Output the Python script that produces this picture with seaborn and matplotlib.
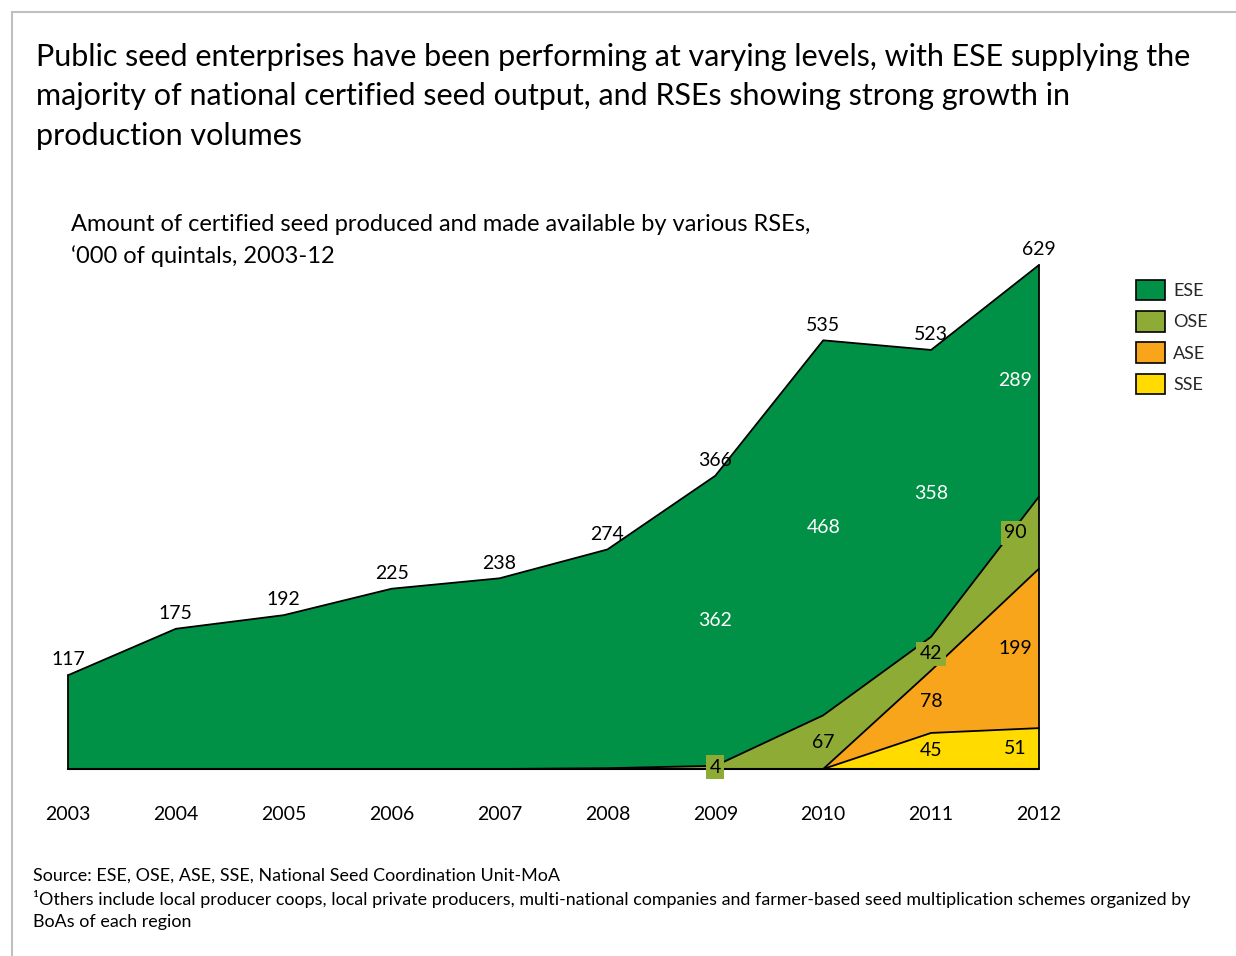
import numpy as np
import pandas as pd
import matplotlib
matplotlib.use("Agg")
import matplotlib.pyplot as plt
from matplotlib.patches import Patch
from matplotlib.lines import Line2D
import seaborn as sns

# ---------------- data ----------------
years = [2003, 2004, 2005, 2006, 2007, 2008, 2009, 2010, 2011, 2012]
ese = [117, 175, 192, 225, 238, 273, 362, 468, 358, 289]
ose = [0, 0, 0, 0, 0, 1, 4, 67, 42, 90]
ase = [0, 0, 0, 0, 0, 0, 0, 0, 78, 199]
sse = [0, 0, 0, 0, 0, 0, 0, 0, 45, 51]
series_names = ["SSE", "ASE", "OSE", "ESE"]  # bottom -> top
legend_order = ["ESE", "OSE", "ASE", "SSE"]
colors = {"ESE": "#009146", "OSE": "#8EAB36", "ASE": "#F8A51C", "SSE": "#FFDB00"}
label_from_year = 2009

title_lines = [
    "Public seed enterprises have been performing at varying levels, with ESE supplying the",
    "majority of national certified seed output, and RSEs showing strong growth in",
    "production volumes",
]
subtitle_lines = [
    "Amount of certified seed produced and made available by various RSEs,",
    "\u2018000 of quintals, 2003-12",
]
foot_lines = [
    "Source: ESE, OSE, ASE, SSE, National Seed Coordination Unit-MoA",
    "\u00b9Others include local producer coops, local private producers, multi-national companies and farmer-based seed multiplication schemes organized by",
    "BoAs of each region",
]

# ---------------- style ----------------
sns.set_theme(style="white")
plt.rcParams["font.family"] = ["Lato", "DejaVu Sans"]

W, H = 1236, 956
fig = plt.figure(figsize=(W / 100, H / 100), dpi=100)
fig.patch.set_facecolor("white")


def fx(px):
    return px / W


def fy(py):
    return 1 - py / H


# axes placement: 2003 -> x=68, 2012 -> x=1039, 0 -> y=769
ymax = 700
px_per_unit = (769 - 265) / 629
ax_h = ymax * px_per_unit
ax = fig.add_axes([fx(68), fy(769), fx(1039 - 68), ax_h / H])
ax.set_facecolor("none")

df = pd.DataFrame({"year": years, "ESE": ese, "OSE": ose, "ASE": ase, "SSE": sse})
vals = {n: np.array(df[n], dtype=float) for n in series_names}
bottom = np.zeros(len(years))
bounds = {}
for n in series_names:
    top = bottom + vals[n]
    bounds[n] = (bottom.copy(), top.copy())
    ax.fill_between(df["year"], bottom, top, facecolor=colors[n], edgecolor="none",
                    linewidth=0, zorder=2)
    bottom = top

# outlines drawn through seaborn
lines_df = pd.DataFrame({
    "year": list(years) * len(series_names),
    "value": np.concatenate([bounds[n][1] for n in series_names]),
    "layer": np.repeat(series_names, len(years)),
})
sns.lineplot(data=lines_df, x="year", y="value", units="layer", estimator=None,
             color="black", linewidth=1.3, ax=ax, zorder=3, legend=False)
total = bounds["ESE"][1]
ax.plot([years[0], years[0]], [0, total[0]], color="black", lw=1.3, zorder=3, clip_on=False)
ax.plot([years[-1], years[-1]], [0, total[-1]], color="black", lw=1.3, zorder=3, clip_on=False)
ax.axhline(0, color="black", lw=1.5, zorder=3)

ax.set_xlim(years[0], years[-1])
ax.set_ylim(0, ymax)
ax.set_xlabel("")
ax.set_ylabel("")
ax.set_yticks([])
ax.set_xticks(years)
ax.set_xticklabels([str(y) for y in years], fontsize=14, color="black")
ax.tick_params(axis="x", length=0, pad=26.5)
for s in ax.spines.values():
    s.set_visible(False)
for line in ax.lines:
    line.set_clip_on(False)

# total labels
for i, y in enumerate(years):
    ax.annotate(f"{int(round(total[i]))}", (y, total[i]), xytext=(0, 11),
                textcoords="offset points", ha="center", va="center",
                fontsize=14, color="black", zorder=5, annotation_clip=False)

# in-band labels
for n in series_names:
    lo, hi = bounds[n]
    for i, y in enumerate(years):
        v = vals[n][i]
        if y < label_from_year or v <= 0:
            continue
        dx = -17 if i == len(years) - 1 else 0
        txtcolor = "white" if n == "ESE" else "black"
        bbox = None
        if n == "OSE":
            bbox = dict(boxstyle="square,pad=0.18", facecolor=colors["OSE"], edgecolor="none")
        ax.annotate(f"{int(v)}", (y, (lo[i] + hi[i]) / 2), xytext=(dx, 0),
                    textcoords="offset points", ha="center", va="center",
                    fontsize=14, color=txtcolor, bbox=bbox, zorder=6,
                    annotation_clip=False)

# legend
handles = [Patch(facecolor=colors[n], edgecolor="black", linewidth=1.2, label=n)
           for n in legend_order]
fig.legend(handles=handles, loc="upper left", bbox_to_anchor=(fx(1129), fy(273)),
           frameon=False, fontsize=13, handlelength=1.6, handleheight=1.35,
           handletextpad=0.45, labelspacing=0.6, borderaxespad=0)

# titles
for k, t in enumerate(title_lines):
    fig.text(fx(36), fy(57 + 39.5 * k), t, fontsize=22, ha="left", va="center",
             color="black")
for k, t in enumerate(subtitle_lines):
    fig.text(fx(71), fy(225 + 31 * k), t, fontsize=17, ha="left", va="center",
             color="black")
for k, t in enumerate(foot_lines):
    fig.text(fx(33), fy(876 + 23 * k), t, fontsize=12.9, ha="left", va="center",
             color="black")

# frame (top and left)
fig.add_artist(Line2D([fx(12), fx(12)], [fy(12), 0], color="#BFBFBF", lw=1.5))
fig.add_artist(Line2D([fx(12), 1], [fy(12), fy(12)], color="#BFBFBF", lw=1.5))

fig.savefig("out.png", dpi=100, facecolor="white")
